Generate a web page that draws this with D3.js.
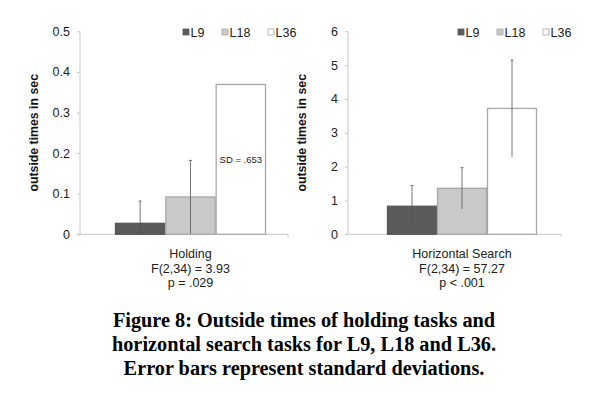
<!DOCTYPE html>
<html>
<head>
<meta charset="utf-8">
<script src="https://cdn.jsdelivr.net/npm/d3@7"></script>
<style>
  body { margin: 0; background: #fff; }
  svg { display: block; }
  .tick text { font-family: "Liberation Sans", Arial, sans-serif; font-size: 12.5px; fill: #222; }
</style>
</head>
<body>
<div id="chart"></div>
<script>
// data
var levels = ["L9", "L18", "L36"];
var holdingMeans = [0.027, 0.092, 0.369];
var holdingSD = [0.055, 0.090, 0.653];
var searchMeans = [0.83, 1.36, 3.72];
var searchSD = [0.61, 0.61, 1.43];
var holdingTicks = [0, 0.1, 0.2, 0.3, 0.4, 0.5];
var searchTicks = [0, 1, 2, 3, 4, 5, 6];
var captionLines = [
  "Figure 8: Outside times of holding tasks and",
  "horizontal search tasks for L9, L18 and L36.",
  "Error bars represent standard deviations."
];

var fills = ["#5a5a5a", "#c9c9c9", "#ffffff"];
var strokes = ["#5a5a5a", "#a8a8a8", "#a8a8a8"];

var width = 595, height = 394;
var svg = d3.select("#chart").append("svg")
    .attr("width", width)
    .attr("height", height);

var panels = [
  { axisX: 80, right: 288, barsL: 115, barsR: 266, max: 0.5, ticks: holdingTicks, fmt: function(d){ return d === 0 ? "0" : d3.format(".1f")(d); },
    means: holdingMeans, sd: holdingSD, labels: ["Holding", "F(2,34) = 3.93", "p = .029"], sdNote: "SD = .653", legendX: 183 },
  { axisX: 348, right: 561, barsL: 387, barsR: 537, max: 6, ticks: searchTicks, fmt: d3.format("d"),
    means: searchMeans, sd: searchSD, labels: ["Horizontal Search", "F(2,34) = 57.27", "p < .001"], sdNote: null, legendX: 458 }
];

var plotTop = 31.3, plotBottom = 234.3;

panels.forEach(function(p) {
  var g = svg.append("g");
  var y = d3.scaleLinear().domain([0, p.max]).range([plotBottom, plotTop]);
  var x = d3.scaleBand().domain(levels).range([p.barsL, p.barsR]).padding(0);

  // y axis
  var yAxis = d3.axisLeft(y).tickValues(p.ticks).tickFormat(p.fmt).tickSize(3).tickPadding(7);
  var ag = g.append("g").attr("transform", "translate(" + p.axisX + ",0)").call(yAxis);
  ag.select(".domain").attr("stroke", "#c8c8c8").attr("d", "M0," + plotTop + "V" + plotBottom);
  ag.selectAll(".tick line").attr("stroke", "#c8c8c8");

  // x axis baseline
  g.append("line")
    .attr("x1", p.axisX - 3).attr("x2", p.right)
    .attr("y1", plotBottom).attr("y2", plotBottom)
    .attr("stroke", "#c8c8c8");
  g.append("line")
    .attr("x1", p.right).attr("x2", p.right)
    .attr("y1", plotBottom).attr("y2", plotBottom + 3)
    .attr("stroke", "#c8c8c8");

  // bars
  g.selectAll("rect.bar").data(levels).enter().append("rect")
    .attr("class", "bar")
    .attr("x", function(d) { return x(d) + 0.5; })
    .attr("width", x.bandwidth() - 1)
    .attr("y", function(d, i) { return y(p.means[i]); })
    .attr("height", function(d, i) { return plotBottom - y(p.means[i]); })
    .attr("fill", function(d, i) { return fills[i]; })
    .attr("stroke", function(d, i) { return strokes[i]; })
    .attr("stroke-width", 1.3);

  // error bars (hidden when they run off the plot)
  var offPlot = function(d, i) { return p.means[i] + p.sd[i] > p.max ? "none" : null; };
  g.selectAll("line.err").data(levels).enter().append("line")
    .attr("class", "err")
    .attr("x1", function(d) { return x(d) + x.bandwidth() / 2; })
    .attr("x2", function(d) { return x(d) + x.bandwidth() / 2; })
    .attr("y1", function(d, i) { return Math.min(plotBottom, y(p.means[i] - p.sd[i])); })
    .attr("y2", function(d, i) { return y(p.means[i] + p.sd[i]); })
    .attr("stroke", "#555")
    .attr("stroke-width", 0.8)
    .style("display", offPlot);
  g.selectAll("line.ecap").data(levels).enter().append("line")
    .attr("class", "ecap")
    .attr("x1", function(d) { return x(d) + x.bandwidth() / 2 - 1.5; })
    .attr("x2", function(d) { return x(d) + x.bandwidth() / 2 + 1.5; })
    .attr("y1", function(d, i) { return y(p.means[i] + p.sd[i]); })
    .attr("y2", function(d, i) { return y(p.means[i] + p.sd[i]); })
    .attr("stroke", "#555")
    .attr("stroke-width", 0.8)
    .style("display", offPlot);

  if (p.sdNote) {
    g.append("text")
      .attr("x", x("L36") + x.bandwidth() / 2)
      .attr("y", 163)
      .attr("text-anchor", "middle")
      .style("font-family", "Liberation Sans, Arial, sans-serif")
      .style("font-size", "9.5px")
      .attr("fill", "#222")
      .text(p.sdNote);
  }

  // y label
  g.append("text")
    .attr("transform", "translate(" + (p.axisX - 42) + "," + ((plotTop + plotBottom) / 2) + ") rotate(-90)")
    .attr("text-anchor", "middle")
    .style("font-family", "Liberation Sans, Arial, sans-serif")
    .style("font-size", "12.3px")
    .style("font-weight", "bold")
    .attr("fill", "#111")
    .text("outside times in sec");

  // category labels
  var cx = (p.barsL + p.barsR) / 2;
  g.selectAll("text.cat").data(p.labels).enter().append("text")
    .attr("class", "cat")
    .attr("x", cx)
    .attr("y", function(d, i) { return 258 + i * 14.5; })
    .attr("text-anchor", "middle")
    .style("font-family", "Liberation Sans, Arial, sans-serif")
    .style("font-size", "12.5px")
    .attr("fill", "#222")
    .text(function(d) { return d; });

  // legend
  var legX = [0, 39, 85];
  var lg = g.selectAll("g.leg").data(levels).enter().append("g")
    .attr("class", "leg")
    .attr("transform", function(d, i) { return "translate(" + (p.legendX + legX[i]) + ",29)"; });
  lg.append("rect")
    .attr("width", 6).attr("height", 6)
    .attr("fill", function(d, i) { return fills[i]; })
    .attr("stroke", function(d, i) { return strokes[i]; })
    .attr("stroke-width", 0.8);
  lg.append("text")
    .attr("x", 7.5).attr("y", 7.5)
    .style("font-family", "Liberation Sans, Arial, sans-serif")
    .style("font-size", "12.5px")
    .attr("fill", "#222")
    .text(function(d) { return d; });
});

// caption
svg.selectAll("text.caption").data(captionLines).enter().append("text")
  .attr("class", "caption")
  .attr("x", 304)
  .attr("y", function(d, i) { return 327 + i * 24; })
  .attr("text-anchor", "middle")
  .style("font-family", "Liberation Serif, Times New Roman, serif")
  .style("font-size", "20.3px")
  .style("font-weight", "bold")
  .attr("fill", "#000")
  .text(function(d) { return d; });
</script>
</body>
</html>
